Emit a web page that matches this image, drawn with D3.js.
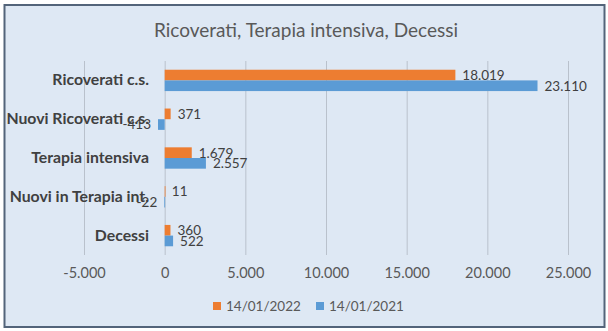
<!DOCTYPE html>
<html>
<head>
<meta charset="utf-8">
<script src="https://cdn.jsdelivr.net/npm/d3@7"></script>
<style>
  html, body { margin: 0; padding: 0; background: #fff; }
  svg { display: block; font-family: Lato, "Open Sans", sans-serif; }
</style>
</head>
<body>
<div id="chart"></div>
<script>
// data
const categories = ["Ricoverati c.s.", "Nuovi Ricoverati c.s.", "Terapia intensiva", "Nuovi in Terapia int.", "Decessi"];
const series = ["14/01/2022", "14/01/2021"];
const values2022 = [18019, 371, 1679, 11, 360];
const values2021 = [23110, -413, 2557, -22, 522];
const tickValues = [-5000, 0, 5000, 10000, 15000, 20000, 25000];
const title = "Ricoverati, Terapia intensiva, Decessi";

const colors = { "14/01/2022": "#ed7d31", "14/01/2021": "#5b9bd5" };

const width = 608, height = 331;
const locale = d3.formatLocale({ decimal: ",", thousands: ".", grouping: [3], currency: ["€", ""], minus: "-" });
const fmt = locale.format(",");

const rows = categories.map((c, i) => ({
    cat: c,
    vals: [{ s: series[0], v: values2022[i] }, { s: series[1], v: values2021[i] }]
}));

const svg = d3.select("#chart").append("svg")
    .attr("width", width)
    .attr("height", height);

// chart frame
svg.append("rect")
    .attr("x", 4.5).attr("y", 5)
    .attr("width", 600).attr("height", 322)
    .attr("fill", "#dee8f4")
    .attr("stroke", "#53647a")
    .attr("stroke-width", 2);

svg.append("text")
    .attr("x", 306).attr("y", 37)
    .attr("text-anchor", "middle")
    .attr("font-size", 19)
    .attr("fill", "#595959")
    .text(title);

// scales
const x = d3.scaleLinear().domain([-5000, 25000]).range([84, 568]);
const y = d3.scaleBand().domain(categories).range([61, 255]).paddingInner(0.45).paddingOuter(0.225);
const ySub = d3.scaleBand().domain(series).range([0, y.bandwidth()]);

// gridlines + tick labels
const xAxis = svg.append("g")
    .attr("transform", "translate(0,255)")
    .call(d3.axisBottom(x).tickValues(tickValues).tickFormat(fmt).tickSize(-194).tickPadding(13));
xAxis.select(".domain").remove();
xAxis.selectAll(".tick line").attr("stroke", "#b9c1cc").attr("stroke-width", 1);
xAxis.selectAll(".tick text")
    .attr("font-size", 14.5)
    .attr("font-family", "Lato, sans-serif")
    .attr("fill", "#595959");

// category labels
const yAxis = svg.append("g")
    .attr("transform", "translate(149,0)")
    .call(d3.axisLeft(y).tickSize(0).tickPadding(0));
yAxis.select(".domain").remove();
yAxis.selectAll(".tick text")
    .attr("font-size", 15.8)
    .attr("font-weight", "bold")
    .attr("font-family", "Lato, sans-serif")
    .attr("fill", "#404040");

// bars
const groups = svg.append("g").selectAll("g")
    .data(rows)
    .join("g")
    .attr("transform", d => `translate(0,${y(d.cat)})`);

groups.selectAll("rect")
    .data(d => d.vals)
    .join("rect")
    .attr("x", d => x(Math.min(0, d.v)))
    .attr("y", d => ySub(d.s))
    .attr("width", d => Math.max(0.8, Math.abs(x(d.v) - x(0))))
    .attr("height", ySub.bandwidth())
    .attr("fill", d => colors[d.s]);

groups.selectAll("text")
    .data(d => d.vals)
    .join("text")
    .attr("x", d => d.v < 0 ? x(d.v) - 7 : x(d.v) + 7)
    .attr("y", d => ySub(d.s) + ySub.bandwidth() / 2)
    .attr("dy", "0.36em")
    .attr("text-anchor", d => d.v < 0 ? "end" : "start")
    .attr("font-size", 13.5)
    .attr("fill", "#404040")
    .text(d => fmt(d.v));

// legend
const legend = svg.append("g")
    .attr("transform", "translate(213,306)");
const items = legend.selectAll("g")
    .data(series)
    .join("g")
    .attr("transform", (d, i) => `translate(${i * 103},0)`);
items.append("rect")
    .attr("x", 0).attr("y", -4)
    .attr("width", 8).attr("height", 8)
    .attr("fill", d => colors[d]);
items.append("text")
    .attr("x", 13).attr("dy", "0.36em")
    .attr("font-size", 13.5)
    .attr("fill", "#595959")
    .text(d => d);
</script>
</body>
</html>
